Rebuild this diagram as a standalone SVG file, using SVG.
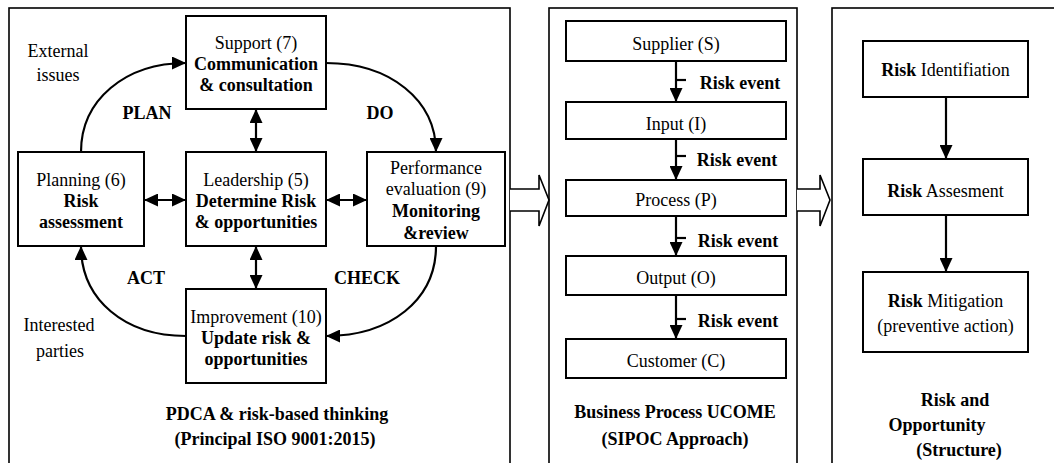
<svg xmlns="http://www.w3.org/2000/svg" width="1054" height="463" viewBox="0 0 1054 463">
<style>
text{font-family:"Liberation Serif","Times New Roman",serif;font-size:18px;fill:#000;text-anchor:middle}
.b{font-weight:bold}
.box{fill:#fff;stroke:#000;stroke-width:2}
.panel{fill:#fff;stroke:#000;stroke-width:1.6}
.ln{fill:none;stroke:#000;stroke-width:2.2}
.hol{fill:#fff;stroke:#000;stroke-width:1.6}
</style>
<defs>
<marker id="ah" viewBox="0 0 14 13" refX="14" refY="6.5" markerWidth="14" markerHeight="13" markerUnits="userSpaceOnUse" orient="auto-start-reverse">
<path d="M0,0 L14,6.5 L0,13 z" fill="#000"/>
</marker>
</defs>
<rect width="1054" height="463" fill="#fff"/>
<g id="panels">
<rect class="panel" x="9" y="8" width="501" height="470"/>
<rect class="panel" x="549" y="8" width="248" height="470"/>
<rect class="panel" x="832" y="8" width="240" height="470"/>
</g>
<g id="connectors">
<path class="ln" d="M81,152 C81,100 125,63 186,63" marker-end="url(#ah)"/>
<path class="ln" d="M326,63 C390,63 436,100 436,152" marker-end="url(#ah)"/>
<path class="ln" d="M436,246 C436,300 390,336 326,336" marker-end="url(#ah)"/>
<path class="ln" d="M186,336 C125,336 81,300 81,246" marker-end="url(#ah)"/>
<line class="ln" x1="256" y1="109" x2="256" y2="152" marker-start="url(#ah)" marker-end="url(#ah)"/>
<line class="ln" x1="256" y1="246" x2="256" y2="289" marker-start="url(#ah)" marker-end="url(#ah)"/>
<line class="ln" x1="144" y1="200" x2="186" y2="200" marker-start="url(#ah)" marker-end="url(#ah)"/>
<line class="ln" x1="326" y1="200" x2="367" y2="200" marker-start="url(#ah)" marker-end="url(#ah)"/>
<line class="ln" x1="676" y1="61" x2="676" y2="102" marker-end="url(#ah)"/>
<line class="ln" x1="676" y1="139" x2="676" y2="180" marker-end="url(#ah)"/>
<line class="ln" x1="676" y1="216" x2="676" y2="256" marker-end="url(#ah)"/>
<line class="ln" x1="676" y1="295" x2="676" y2="339" marker-end="url(#ah)"/>
<line class="ln" x1="676" y1="80" x2="686" y2="80" stroke-width="1.5"/>
<line class="ln" x1="676" y1="156" x2="686" y2="156" stroke-width="1.5"/>
<line class="ln" x1="676" y1="238" x2="686" y2="238" stroke-width="1.5"/>
<line class="ln" x1="676" y1="319" x2="686" y2="319" stroke-width="1.5"/>
<line class="ln" x1="946" y1="97" x2="946" y2="159" marker-end="url(#ah)"/>
<line class="ln" x1="946" y1="215" x2="946" y2="272" marker-end="url(#ah)"/>
<path class="hol" d="M510,189 H539 V175 L549,200 L539,226 V211 H510"/>
<path class="hol" d="M797,189 H820 V175 L830,200 L820,226 V211 H797"/>
</g>
<g id="labels">
<text x="58" y="57">External</text>
<text x="58" y="81">issues</text>
<text x="59" y="331">Interested</text>
<text x="60" y="357">parties</text>
<text class="b" x="147" y="119">PLAN</text>
<text class="b" x="380" y="119">DO</text>
<text class="b" x="146" y="284">ACT</text>
<text class="b" x="367" y="284">CHECK</text>
<text class="b" x="740" y="89">Risk event</text>
<text class="b" x="737" y="166">Risk event</text>
<text class="b" x="738" y="247">Risk event</text>
<text class="b" x="738" y="327">Risk event</text>
<text class="b" x="277" y="420">PDCA &amp; risk-based thinking</text>
<text class="b" x="275" y="445">(Principal ISO 9001:2015)</text>
<text class="b" x="675" y="418">Business Process UCOME</text>
<text class="b" x="675" y="445">(SIPOC Approach)</text>
<text class="b" x="955" y="406">Risk and</text>
<text class="b" x="937" y="431">Opportunity</text>
<text class="b" x="959" y="456">(Structure)</text>
</g>
<g id="support">
<rect class="box" x="186" y="16" width="140" height="93"/>
<text x="256" y="49">Support (7)</text>
<text class="b" x="256" y="70">Communication</text>
<text class="b" x="256" y="91">&amp; consultation</text>
</g>
<g id="planning">
<rect class="box" x="18" y="152" width="126" height="94"/>
<text x="81" y="186">Planning (6)</text>
<text class="b" x="81" y="207">Risk</text>
<text class="b" x="81" y="228">assessment</text>
</g>
<g id="leadership">
<rect class="box" x="186" y="152" width="140" height="94"/>
<text x="256" y="186">Leadership (5)</text>
<text class="b" x="256" y="207">Determine Risk</text>
<text class="b" x="256" y="228">&amp; opportunities</text>
</g>
<g id="performance">
<rect class="box" x="367" y="152" width="138" height="94"/>
<text x="436" y="174">Performance</text>
<text x="436" y="195">evaluation (9)</text>
<text class="b" x="436" y="217">Monitoring</text>
<text class="b" x="436" y="239">&amp;review</text>
</g>
<g id="improvement">
<rect class="box" x="186" y="289" width="140" height="94"/>
<text x="256" y="323">Improvement (10)</text>
<text class="b" x="256" y="344">Update risk &amp;</text>
<text class="b" x="256" y="365">opportunities</text>
</g>
<g id="supplier">
<rect class="box" x="566" y="21" width="220" height="40"/>
<text x="676" y="50">Supplier (S)</text>
</g>
<g id="input">
<rect class="box" x="566" y="102" width="220" height="37"/>
<text x="676" y="130">Input (I)</text>
</g>
<g id="process">
<rect class="box" x="566" y="180" width="220" height="36"/>
<text x="676" y="206">Process (P)</text>
</g>
<g id="output">
<rect class="box" x="566" y="256" width="220" height="39"/>
<text x="676" y="284">Output (O)</text>
</g>
<g id="customer">
<rect class="box" x="566" y="339" width="220" height="39"/>
<text x="676" y="367">Customer (C)</text>
</g>
<g id="identification">
<rect class="box" x="863" y="41" width="165" height="56"/>
<text x="945.5" y="76"><tspan class="b">Risk</tspan> Identifiation</text>
</g>
<g id="assessment">
<rect class="box" x="863" y="159" width="165" height="56"/>
<text x="945.5" y="197"><tspan class="b">Risk</tspan> Assesment</text>
</g>
<g id="mitigation">
<rect class="box" x="863" y="272" width="165" height="80"/>
<text x="945.5" y="307"><tspan class="b">Risk</tspan> Mitigation</text>
<text x="945.5" y="332">(preventive action)</text>
</g>
</svg>
